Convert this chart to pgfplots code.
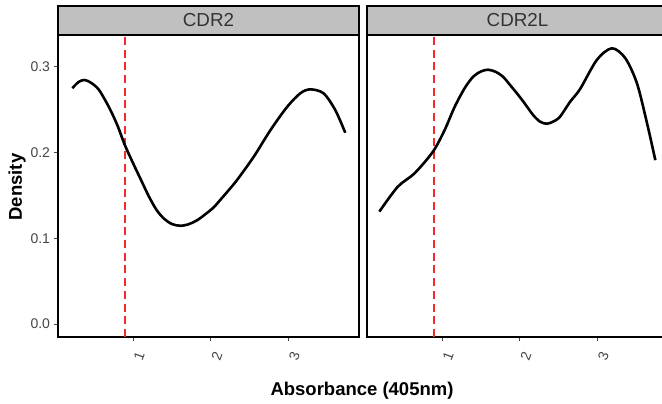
\documentclass[border=0pt]{standalone}
\usepackage{pgfplots}
\pgfplotsset{compat=1.18}
\usepackage{fontspec}
\setmainfont{Liberation Sans}
\definecolor{stripgray}{HTML}{C0C0C0}
\definecolor{ticktext}{HTML}{454545}
\definecolor{striptext}{HTML}{333333}
\definecolor{vred}{HTML}{F52A2A}
\newcommand\tl[1]{{\fontsize{14pt}{16pt}\selectfont #1}}

\tikzset{strip/.style={fill=stripgray, draw=black, line width=1.4pt}}
\pgfplotsset{
  facet/.style={
    scale only axis, width=301pt, height=302pt,
    xmin=0.03, xmax=3.91, ymin=-0.0152, ymax=0.337,
    clip=false,
    axis line style={black, line width=1.4pt},
    xtick={1,2,3}, xticklabels={\tl{1},\tl{2},\tl{3}},
    xtick pos=bottom, ytick pos=left,
    tick align=outside, major tick length=4.5pt,
    tick style={ticktext, line width=0.8pt},
    xticklabel style={text=ticktext, anchor=center,
      xshift=6pt, yshift=-15pt, rotate=70},
    yticklabel style={text=ticktext},
  },
}

\begin{document}
\begin{tikzpicture}
\useasboundingbox (0,0) rectangle (662pt,404pt);

% CDR2 panel
\begin{axis}[facet, at={(58pt,67pt)}, anchor=south west,
  ytick={0,0.1,0.2,0.3}, yticklabels={\tl{0.0},\tl{0.1},\tl{0.2},\tl{0.3}}]
\draw[strip] (rel axis cs:0,1) rectangle ([yshift=29pt]rel axis cs:1,1);
\node[text=striptext, font=\fontsize{18.8pt}{20pt}\selectfont]
  at ([yshift=14.5pt]rel axis cs:0.5,1) {CDR2};
\addplot[vred, line width=2pt, dash pattern=on 8pt off 4.7pt]
  coordinates {(0.89,-0.0152) (0.89,0.337)};
\addplot[black, line width=2.6pt, smooth, tension=0.5] coordinates {
(0.215,0.275) (0.30,0.2825) (0.377,0.2845) (0.46,0.281) (0.558,0.273)
(0.686,0.253) (0.794,0.232) (0.892,0.2086) (1.0,0.187) (1.1,0.168)
(1.2,0.149) (1.3,0.133) (1.4,0.1225) (1.5,0.1165) (1.609,0.1145)
(1.72,0.1165) (1.824,0.121) (1.93,0.128) (2.037,0.136) (2.13,0.1455)
(2.23,0.156) (2.339,0.168) (2.553,0.195)
(2.768,0.226) (2.982,0.253) (3.153,0.269) (3.282,0.2736) (3.453,0.269)
(3.604,0.2495) (3.733,0.223)
};
\end{axis}

% CDR2L panel
\begin{axis}[facet, at={(367pt,67pt)}, anchor=south west,
  ytick=\empty]
\draw[strip] (rel axis cs:0,1) rectangle ([yshift=29pt]rel axis cs:1,1);
\node[text=striptext, font=\fontsize{18.8pt}{20pt}\selectfont]
  at ([yshift=14.5pt]rel axis cs:0.5,1) {CDR2L};
\addplot[vred, line width=2pt, dash pattern=on 8pt off 4.7pt]
  coordinates {(0.89,-0.0152) (0.89,0.337)};
\addplot[black, line width=2.6pt, smooth, tension=0.5] coordinates {
(0.189,0.131) (0.426,0.160) (0.642,0.1756) (0.879,0.2008) (1.03,0.226)
(1.159,0.253) (1.289,0.275) (1.40,0.2885) (1.50,0.2945) (1.59,0.2965)
(1.69,0.294) (1.784,0.2883) (1.88,0.278) (1.98,0.267) (2.08,0.255)
(2.172,0.2436) (2.26,0.236) (2.346,0.2335) (2.43,0.236) (2.518,0.2417)
(2.647,0.259) (2.777,0.274)
(2.993,0.308) (3.187,0.3215) (3.359,0.310) (3.51,0.2806) (3.64,0.234)
(3.747,0.191)
};
\end{axis}

\node[rotate=90, font=\bfseries\fontsize{18.5pt}{20pt}\selectfont]
  at (17pt,217pt) {Density};
\node[font=\bfseries\fontsize{18.5pt}{20pt}\selectfont]
  at (362pt,13pt) {Absorbance (405nm)};
\end{tikzpicture}
\end{document}
